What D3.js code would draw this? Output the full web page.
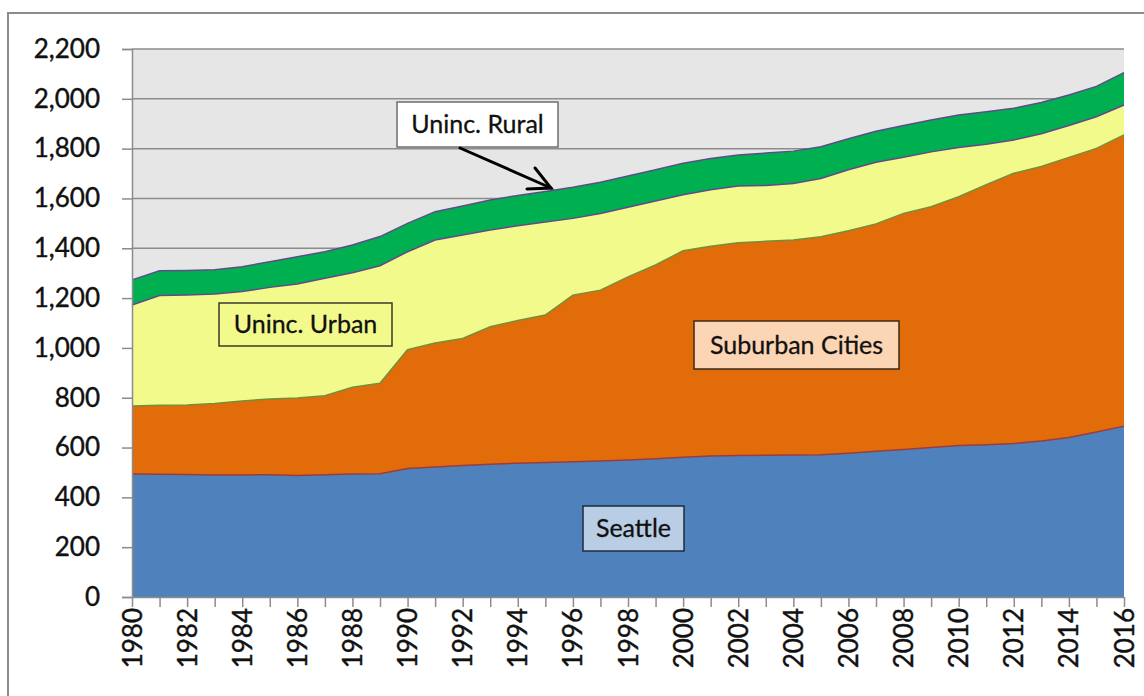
<!DOCTYPE html>
<html>
<head>
<meta charset="utf-8">
<script src="https://cdn.jsdelivr.net/npm/d3@7"></script>
<style>
  body { margin: 0; background: #fff; }
  svg { display: block; font-family: Lato, "Open Sans", sans-serif; }
</style>
</head>
<body>
<svg width="1144" height="696"></svg>
<script>
  // Data (thousands of people).
  const years = [1980, 1981, 1982, 1983, 1984, 1985, 1986, 1987, 1988, 1989,
                 1990, 1991, 1992, 1993, 1994, 1995, 1996, 1997, 1998, 1999,
                 2000, 2001, 2002, 2003, 2004, 2005, 2006, 2007, 2008, 2009,
                 2010, 2011, 2012, 2013, 2014, 2015, 2016];
  const seattle = [494, 493, 492, 490, 490, 491, 488, 491, 494, 495,
                   516, 522, 528, 533, 537, 540, 543, 546, 550, 555,
                   561, 566, 568, 569, 570, 571, 577, 585, 592, 600,
                   608, 611, 616, 626, 640, 662, 686];
  const suburban = [273, 277, 279, 287, 297, 304, 311, 317, 348, 363,
                    477, 498, 510, 552, 573, 592, 669, 686, 735, 778,
                    829, 842, 854, 859, 863, 875, 893, 913, 948, 967,
                    999, 1044, 1085, 1102, 1125, 1139, 1169];
  const unincUrban = [405, 440, 441, 439, 439, 448, 458, 472, 460, 472,
                      393, 413, 415, 388, 380, 373, 308, 308, 280, 257,
                      225, 227, 228, 224, 227, 234, 245, 247, 225, 220,
                      198, 163, 134, 132, 128, 127, 120];
  const unincRural = [101, 100, 99, 98, 100, 103, 109, 106, 111, 117,
                      114, 114, 117, 121, 122, 123, 125, 125, 125, 125,
                      126, 125, 124, 130, 130, 128, 125, 125, 128, 128,
                      130, 130, 127, 125, 122, 122, 130];
  const yTicks = [0, 200, 400, 600, 800, 1000, 1200, 1400, 1600, 1800, 2000, 2200];

  const keys = ["seattle", "suburban", "urban", "rural"];
  const fills = { seattle: "#4f81bd", suburban: "#e36c0a", urban: "#f3fa8c", rural: "#00b050" };
  const strokes = { seattle: "#9b3b3b", suburban: "#6f8f3a", urban: "#5f4b8b", rural: "#5f4b8b" };

  const table = years.map((yr, i) => ({
    year: yr, seattle: seattle[i], suburban: suburban[i], urban: unincUrban[i], rural: unincRural[i]
  }));
  const series = d3.stack().keys(keys)(table);

  const svg = d3.select("svg");

  // outer frame
  svg.append("rect")
      .attr("x", 8).attr("y", 13)
      .attr("width", 1150).attr("height", 700)
      .attr("fill", "#fff")
      .attr("stroke", "#8c8c8c")
      .attr("stroke-width", 2);

  const x = d3.scaleLinear().domain([1980, 2016]).range([132, 1124]);
  const y = d3.scaleLinear().domain([0, 2200]).range([597, 49]);

  // plot background
  svg.append("rect")
      .attr("x", x(1980)).attr("y", y(2200))
      .attr("width", x(2016) - x(1980)).attr("height", y(0) - y(2200))
      .attr("fill", "#e6e6e6");

  // gridlines
  svg.append("g")
    .selectAll("line")
    .data(yTicks)
    .join("line")
      .attr("x1", x(1980)).attr("x2", x(2016))
      .attr("y1", d => y(d)).attr("y2", d => y(d))
      .attr("stroke", "#8c8c8c")
      .attr("stroke-width", 1.5);

  const area = d3.area()
      .x(d => x(d.data.year))
      .y0(d => y(d[0]))
      .y1(d => y(d[1]));

  const topLine = d3.line()
      .x(d => x(d.data.year))
      .y(d => y(d[1]));

  svg.append("g")
    .selectAll("path")
    .data(series)
    .join("path")
      .attr("fill", d => fills[d.key])
      .attr("d", area);

  svg.append("g")
    .selectAll("path")
    .data(series)
    .join("path")
      .attr("fill", "none")
      .attr("stroke", d => strokes[d.key])
      .attr("stroke-width", 1.5)
      .attr("d", topLine);

  // y axis
  const yAxis = svg.append("g")
      .attr("transform", `translate(${x(1980)},0)`)
      .call(d3.axisLeft(y).tickValues(yTicks).tickFormat(d3.format(",")).tickSize(10).tickPadding(22));
  yAxis.select(".domain").attr("stroke", "#8c8c8c").attr("stroke-width", 1.5);
  yAxis.selectAll(".tick line").attr("stroke", "#8c8c8c").attr("stroke-width", 1.5);
  yAxis.selectAll(".tick text")
      .attr("font-family", "Lato, sans-serif")
      .attr("font-size", 26)
      .attr("fill", "#111")
      .attr("stroke", "#111")
      .attr("stroke-width", 0.4);

  // x axis
  const xAxis = svg.append("g")
      .attr("transform", `translate(0,${y(0)})`)
      .call(d3.axisBottom(x).tickValues(years).tickFormat(d => d % 2 === 0 ? d : "").tickSize(10).tickSizeOuter(0));
  xAxis.select(".domain").attr("stroke", "#8c8c8c").attr("stroke-width", 1.5);
  xAxis.selectAll(".tick line").attr("stroke", "#8c8c8c").attr("stroke-width", 1.5);
  xAxis.selectAll(".tick text")
      .attr("font-family", "Lato, sans-serif")
      .attr("font-size", 26)
      .attr("fill", "#111")
      .attr("stroke", "#111")
      .attr("stroke-width", 0.4)
      .attr("text-anchor", "end")
      .attr("dy", "0.35em")
      .attr("transform", "translate(0,11) rotate(-90)")
      .attr("x", 0).attr("y", 0);

  // annotation boxes
  const labels = [
    { text: "Uninc. Rural", x: 397, y: 102, w: 161, h: 45, fill: "#ffffff", stroke: "#6e6e6e" },
    { text: "Uninc. Urban", x: 219, y: 303, w: 173, h: 43, fill: "#f3fa8c", stroke: "#3a3a2a" },
    { text: "Suburban Cities", x: 694, y: 321, w: 205, h: 48, fill: "#fcd5b5", stroke: "#3a2a1a" },
    { text: "Seattle", x: 583, y: 506, w: 101, h: 45, fill: "#b9cde5", stroke: "#1f2a3a" }
  ];

  const lab = svg.append("g")
    .selectAll("g")
    .data(labels)
    .join("g");
  lab.append("rect")
      .attr("x", d => d.x).attr("y", d => d.y)
      .attr("width", d => d.w).attr("height", d => d.h)
      .attr("fill", d => d.fill)
      .attr("stroke", d => d.stroke)
      .attr("stroke-width", 1.5);
  lab.append("text")
      .attr("x", d => d.x + d.w / 2)
      .attr("y", d => d.y + d.h / 2)
      .attr("dy", "0.35em")
      .attr("text-anchor", "middle")
      .attr("font-size", 25)
      .attr("fill", "#111")
      .attr("stroke", "#111")
      .attr("stroke-width", 0.3)
      .text(d => d.text);

  // arrow to the rural band
  const arrow = svg.append("g")
      .attr("stroke", "#000")
      .attr("stroke-width", 3)
      .attr("fill", "none")
      .attr("stroke-linecap", "round");
  arrow.append("line").attr("x1", 460).attr("y1", 148).attr("x2", 551).attr("y2", 188);
  arrow.append("polyline").attr("points", "535,168 551,188 527,189");
</script>
</body>
</html>
